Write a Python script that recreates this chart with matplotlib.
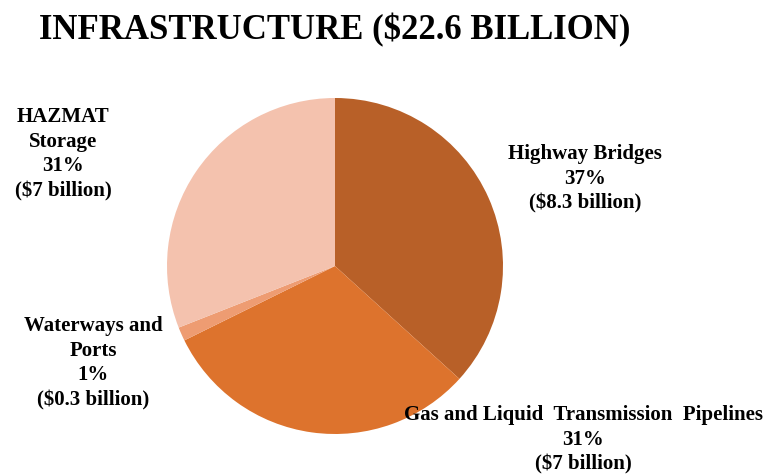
import matplotlib.pyplot as plt

# Infrastructure losses by sector (billions of dollars)
sectors = ["Highway Bridges", "Gas and Liquid  Transmission  Pipelines",
           "Waterways and\nPorts", "HAZMAT\nStorage"]
values = [8.3, 7.0, 0.3, 7.0]
colors = ["#B86028", "#DD732D", "#EE9C72", "#F4C2AE"]
total = 22.6

# label anchor points in pixels (x from left, y from top)
label_px = [(585, 179), (583, 440), (93, 363), (63, 154)]

W, H = 767, 476
plt.rcParams["font.family"] = ["Liberation Serif", "DejaVu Serif"]

fig = plt.figure(figsize=(W / 100, H / 100), dpi=100)
cx, cy, r = 335, 266, 168
ax = fig.add_axes([(cx - r) / W, (H - cy - r) / H, 2 * r / W, 2 * r / H])
ax.pie(values, colors=colors, startangle=90, counterclock=False,
       radius=1, wedgeprops=dict(linewidth=0))
ax.set_xlim(-1, 1)
ax.set_ylim(-1, 1)
ax.set_aspect("equal")
ax.axis("off")

fig.text(335 / W, 1 - 30 / H, f"INFRASTRUCTURE (${total:g} BILLION)",
         ha="center", va="center", fontsize=25, fontweight="bold")

for name, v, (px, py) in zip(sectors, values, label_px):
    pct = round(v / total * 100)
    txt = f"{name}\n{pct}%\n(${v:g} billion)"
    fig.text(px / W, 1 - py / H, txt, ha="center", va="center",
             multialignment="center", fontsize=15, fontweight="bold",
             linespacing=1.32)

fig.savefig("out.png", dpi=100)
